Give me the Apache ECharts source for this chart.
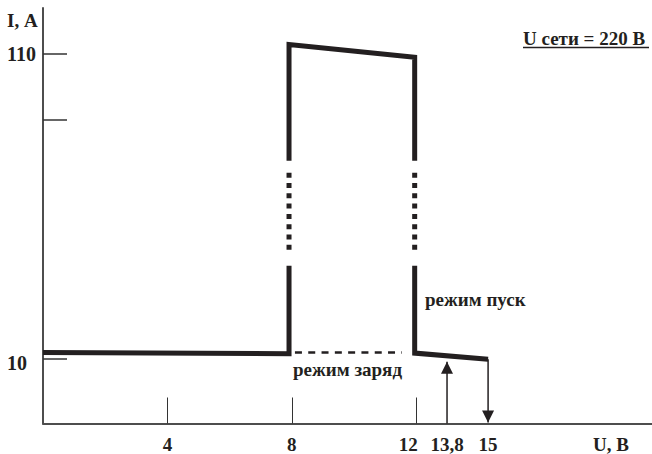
<!DOCTYPE html>
<html>
<head>
<meta charset="utf-8">
<script src="https://cdn.jsdelivr.net/npm/echarts@6/dist/echarts.min.js"></script>
<style>html,body{margin:0;padding:0;background:#fff}#c{width:652px;height:454px}</style>
</head>
<body>
<div id="c"></div>
<script>
// ---- data (U in volts, I in amperes) ----
const chargeBranch = [[0, 12.0], [7.91, 11.6], [7.91, 40.5]];        // режим заряд, left part + rising edge
const startBranch  = [[7.91, 74.9], [7.91, 113.1], [11.95, 108.9], [11.95, 74.9]]; // режим пуск
const returnBranch = [[11.95, 40.5], [11.95, 11.8], [15, 9.8]];
const breakLeft    = [[7.91, 45.7], [7.91, 71.0]];
const breakRight   = [[11.95, 45.7], [11.95, 71.0]];
const chargeDashed = [[8.1, 11.97], [11.54, 11.97]];
const arrowUp      = [[13.8, -11.31], [13.8, 9.0]];
const arrowDown    = [[15, 9.8], [15, -10.98]];

const xTickValues  = [4, 8, 12];
const xLabelValues = [4, 8, 12, 13.8, 15];
const xLabelTexts  = ['4', '8', '12', '13,8', '15'];
const yTickValues  = [10, 88.36, 110];
const yLabelValues = [10, 110];

// schematic (non-uniform) voltage scale of the drawing
const scaleVals = [0, 12, 13.8, 15];
const scalePos  = [0, 12, 12.99, 14.31];
function xMap(v) {
  for (let i = 0; i < scaleVals.length - 1; i++) {
    if (v <= scaleVals[i + 1]) {
      const t = (v - scaleVals[i]) / (scaleVals[i + 1] - scaleVals[i]);
      return scalePos[i] + t * (scalePos[i + 1] - scalePos[i]);
    }
  }
  return scalePos[scalePos.length - 1] + (v - scaleVals[scaleVals.length - 1]);
}
const pts = arr => arr.map(p => [xMap(p[0]), p[1]]);

const ink = '#231f20';
const axisCol = '#4d4d4d';
const serif = 'Liberation Serif';

function solid(data, w) {
  return {type: 'line', data: pts(data), showSymbol: false, symbol: 'none', z: 5,
    lineStyle: {color: ink, width: w, cap: 'butt', join: 'miter'}, silent: true};
}
const txt = size => ({fontFamily: serif, fontWeight: 'bold', fontSize: size, color: ink});

const chart = echarts.init(document.getElementById('c'), null, {renderer: 'svg'});
const labelPos = xLabelValues.map(xMap);

const option = {
  animation: false,
  backgroundColor: '#fff',
  grid: {left: 43, right: 0, top: 8, bottom: 30, containLabel: false},
  xAxis: {
    type: 'value', min: 0, max: 19.58,
    axisLine: {show: true, onZero: false, lineStyle: {color: axisCol, width: 2}},
    axisTick: {show: true, inside: true, length: 26, customValues: xTickValues.map(xMap),
      lineStyle: {color: '#333', width: 1}},
    axisLabel: {
      customValues: labelPos, margin: 11,
      formatter: function (v) {
        let best = 0;
        labelPos.forEach((p, i) => { if (Math.abs(p - v) < Math.abs(labelPos[best] - v)) best = i; });
        const t = xLabelTexts[best];
        return t === '12' ? '{s|' + t + '}' : '{n|' + t + '}';
      },
      rich: {
        n: Object.assign(txt(19), {lineHeight: 20}),
        s: Object.assign(txt(19), {lineHeight: 20, padding: [0, 16, 0, 0]})
      }
    },
    splitLine: {show: false}
  },
  yAxis: {
    type: 'value', min: -11.31, max: 125.08,
    axisLine: {show: true, onZero: false, lineStyle: {color: axisCol, width: 2}},
    axisTick: {show: true, inside: true, length: 24, customValues: yTickValues,
      lineStyle: {color: '#333', width: 1.5}},
    axisLabel: {
      customValues: yLabelValues, margin: 36, align: 'left',
      formatter: v => (v === 10 ? '{d|10}' : '{n|' + v + '}'),
      rich: {
        n: txt(20),
        d: Object.assign(txt(20), {padding: [8, 0, 0, 0]})
      }
    },
    splitLine: {show: false}
  },
  title: [
    {text: 'I, А', left: 7, top: 11, padding: 0, textStyle: txt(19)},
    {text: 'U сети = 220 В', left: 523, top: 29, padding: 0, textStyle: txt(19)},
    {text: 'режим пуск', left: 425, top: 290, padding: 0, textStyle: txt(19)},
    {text: 'режим заряд', left: 293, top: 360, padding: 0, textStyle: txt(19)},
    {text: 'U, В', left: 593, top: 435, padding: 0, textStyle: txt(19)}
  ],
  graphic: [
    {type: 'line', shape: {x1: 523, y1: 47.5, x2: 649, y2: 47.5}, style: {stroke: ink, lineWidth: 1.5}, silent: true}
  ],
  series: [
    solid(chargeBranch, 5),
    solid(startBranch, 5),
    solid(returnBranch, 5),
    {type: 'line', data: pts(breakLeft), showSymbol: false, symbol: 'none', silent: true,
      lineStyle: {color: ink, width: 5, type: [5, 5.3], cap: 'butt'}},
    {type: 'line', data: pts(breakRight), showSymbol: false, symbol: 'none', silent: true,
      lineStyle: {color: ink, width: 5, type: [5, 5.3], cap: 'butt'}},
    {type: 'line', data: pts(chargeDashed), showSymbol: false, symbol: 'none', silent: true,
      lineStyle: {color: ink, width: 2.5, type: [7, 6.3], cap: 'butt'}},
    {type: 'line', silent: true, showSymbol: true,
      data: [{value: pts(arrowUp)[0], symbol: 'none'},
             {value: pts(arrowUp)[1], symbol: 'path://M0,10L5,0L10,10Z', symbolSize: [12, 12], symbolOffset: [0, '50%']}],
      itemStyle: {color: ink}, lineStyle: {color: ink, width: 1.5}},
    {type: 'line', silent: true, showSymbol: true,
      data: [{value: pts(arrowDown)[0], symbol: 'none'},
             {value: pts(arrowDown)[1], symbol: 'path://M0,0L10,0L5,10Z', symbolSize: [12, 12], symbolOffset: [0, '-50%']}],
      itemStyle: {color: ink}, lineStyle: {color: ink, width: 1.5}}
  ]
};
chart.setOption(option);
</script>
</body>
</html>
